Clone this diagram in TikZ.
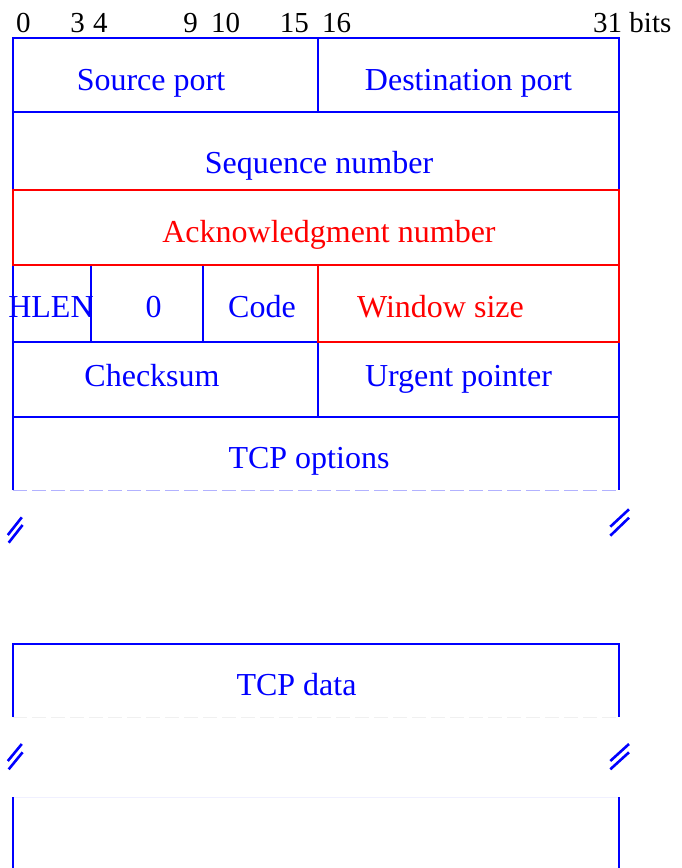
\documentclass[tikz,border=0pt]{standalone}
\usepackage{fontspec}
\setmainfont{Liberation Serif}
\usetikzlibrary{positioning}

\begin{document}
\begin{tikzpicture}[x=1pt,y=-1pt]%
            \useasboundingbox (0,0) rectangle (682,868); %%
            \tikzstyle{bline}=[draw=blue,line width=2.4pt] %%
            \tikzstyle{rline}=[draw=red,line width=2.6pt] %%
            \tikzstyle{cut}=[draw=blue,line width=2.6pt] %%
            % bit numbers
            \begin{scope}[inner sep=0pt,anchor=base west,font=\fontsize{29}{32}\selectfont]%
            \node (b0) at (16,32) {0}; %%
            \node[anchor=base east] (b3) at (85,32) {3}; %%
            \node (b4) at (93,32) {4}; %%
            \node[anchor=base east] (b9) at (198,32) {9}; %%
            \node (b10) at (211,32) {10}; %%
            \node[anchor=base east] (b15) at (309,32) {15}; %%
            \node (b16) at (322,32) {16}; %%
            \node (b31) at (593,32) {31 bits}; %%
            \end{scope}
            % header boxes
            \draw[bline] (13,490)--(13,38)--(619,38)--(619,490); %%
            \draw[bline] (318,38)--(318,112); %%
            \draw[bline] (13,112)--(619,112); %%
            \draw[bline] (91,265)--(91,342); %%
            \draw[bline] (203,265)--(203,342); %%
            \draw[bline] (13,342)--(318,342); %%
            \draw[bline] (318,342)--(318,417); %%
            \draw[bline] (13,417)--(619,417); %%
            \draw[rline] (13,190) rectangle (619,265); %%
            \draw[rline] (318,265) rectangle (619,342); %%
            \draw[blue!30,line width=1pt,dash pattern=on 14pt off 5pt] (13,490)--(619,490); %%
            % data part
            \draw[bline] (13,717)--(13,644)--(619,644)--(619,717); %%
            \draw[gray!12,line width=1pt,dash pattern=on 14pt off 5pt] (13,717)--(619,717); %%
            \draw[blue!6,line width=1pt] (13,797)--(619,797); %%
            \draw[bline] (13,797)--(13,868); %%
            \draw[bline] (619,797)--(619,868); %%
            % breaks
            \draw[cut] (7.8,535)--(21.8,517.3) (8.7,542.7)--(22.6,525); %%
            \draw[cut] (610.3,526.7)--(629,509.3) (610.3,535.7)--(629,517.7); %%
            \draw[cut] (7.8,761)--(21.8,744) (8.7,769.3)--(22.6,752.3); %%
            \draw[cut] (610.3,761)--(629,744) (610.3,769.3)--(629,752.3); %%
            % field names
            \begin{scope}[inner sep=0pt,anchor=base,text=blue,font=\fontsize{32}{36}\selectfont]%
            \node (src) at (151,90) {Source port}; %%
            \node (dst) at (468.5,90) {Destination port}; %%
            \node (seq) at (319,173) {Sequence number}; %%
            \node[text=red] (ack) at (329,242) {Acknowledgment number}; %%
            \node (hlen) at (51,317) {HLEN}; %%
            \node (zero) at (153.5,317) {0}; %%
            \node (code) at (262,317) {Code}; %%
            \node[text=red] (win) at (440.5,317) {Window size}; %%
            \node (chk) at (152,386) {Checksum}; %%
            \node (urg) at (458.5,386) {Urgent pointer}; %%
            \node (opt) at (309,468) {TCP options}; %%
            \node (data) at (296.5,695) {TCP data}; %%
            \end{scope}
        \end{tikzpicture}
\end{document}
